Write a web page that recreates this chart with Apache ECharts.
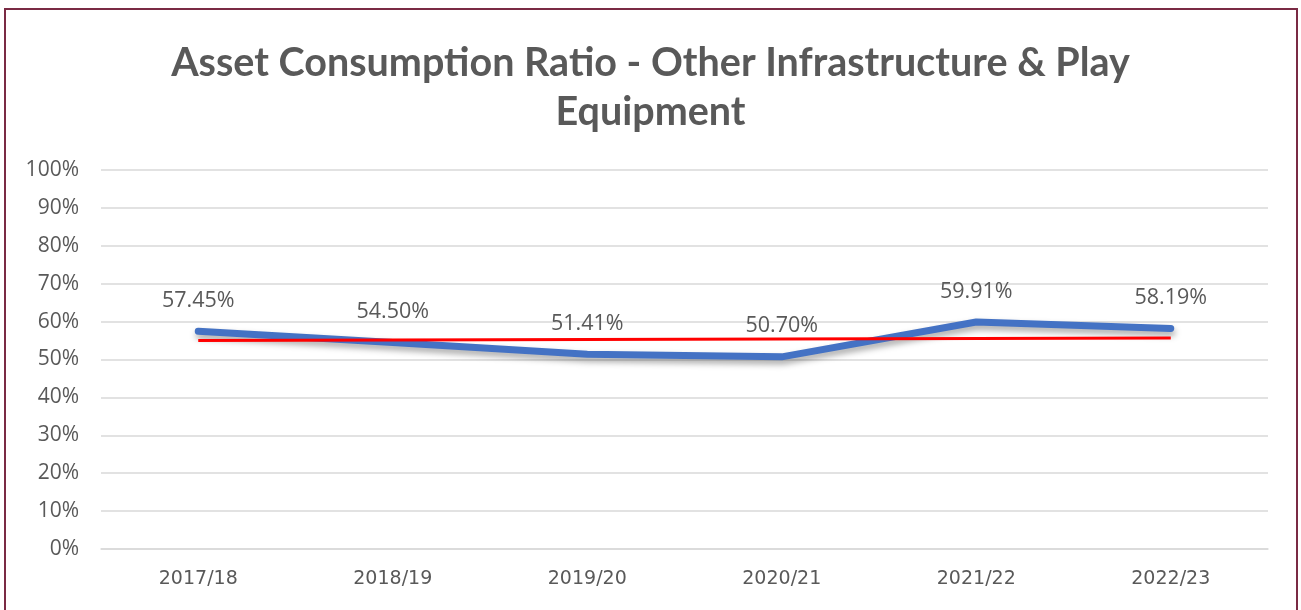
<!DOCTYPE html>
<html><head><meta charset="utf-8">
<script src="https://cdn.jsdelivr.net/npm/echarts@6/dist/echarts.min.js"></script>
<style>
html,body{margin:0;padding:0;background:#fff;}
#c{width:1301px;height:610px;}
</style></head>
<body><div id="c"></div>
<script>
const categories = ['2017/18','2018/19','2019/20','2020/21','2021/22','2022/23'];
const ratioValues = [57.45, 54.50, 51.41, 50.70, 59.91, 58.19];
const referenceLine = [55.0, null, null, null, null, 55.7];
const titleText = 'Asset Consumption Ratio - Other Infrastructure & Play\nEquipment';

const chart = echarts.init(document.getElementById('c'), null, {renderer:'canvas'});
chart.setOption({
  backgroundColor:'#fff',
  animation:false,
  title:{
    text:titleText, left:'center', top:34,
    textStyle:{fontFamily:'Lato', fontWeight:'bold', fontSize:39.5, color:'#595959', lineHeight:49}
  },
  graphic:[{type:'rect', shape:{x:5,y:9,width:1292,height:620}, style:{fill:'none', stroke:'#7a2a44', lineWidth:2}, silent:true}],
  grid:{left:101, right:33, top:170, bottom:61, containLabel:false},
  xAxis:{
    type:'category', data:categories, boundaryGap:true,
    axisLine:{show:true, lineStyle:{color:'#d9d9d9', width:1.5}},
    axisTick:{show:false},
    axisLabel:{fontFamily:'DejaVu Sans', fontSize:19, color:'#595959', margin:21}
  },
  yAxis:{
    type:'value', min:0, max:100, interval:10,
    axisLine:{show:false}, axisTick:{show:false},
    splitLine:{lineStyle:{color:'#d9d9d9', width:1.5}},
    axisLabel:{fontFamily:'Open Sans', fontSize:21, color:'#595959', margin:22, formatter:v=>v+'%'}
  },
  series:[
    {
      type:'line', data:ratioValues, symbol:'circle', symbolSize:1, showSymbol:true,
      itemStyle:{color:'rgba(68,114,196,0)'},
      lineStyle:{color:'#4472c4', width:7, cap:'round', join:'round', shadowColor:'rgba(0,0,0,0.35)', shadowBlur:6, shadowOffsetY:4, shadowOffsetX:1},
      label:{show:true, position:'top', distance:19, fontFamily:'Open Sans', fontSize:21.5, color:'#595959', formatter:p=>p.value.toFixed(2)+'%'},
      z:2
    },
    {
      type:'line', data:referenceLine, connectNulls:true, symbol:'none',
      lineStyle:{color:'#ff0000', width:3},
      z:3
    }
  ]
});
</script></body></html>
